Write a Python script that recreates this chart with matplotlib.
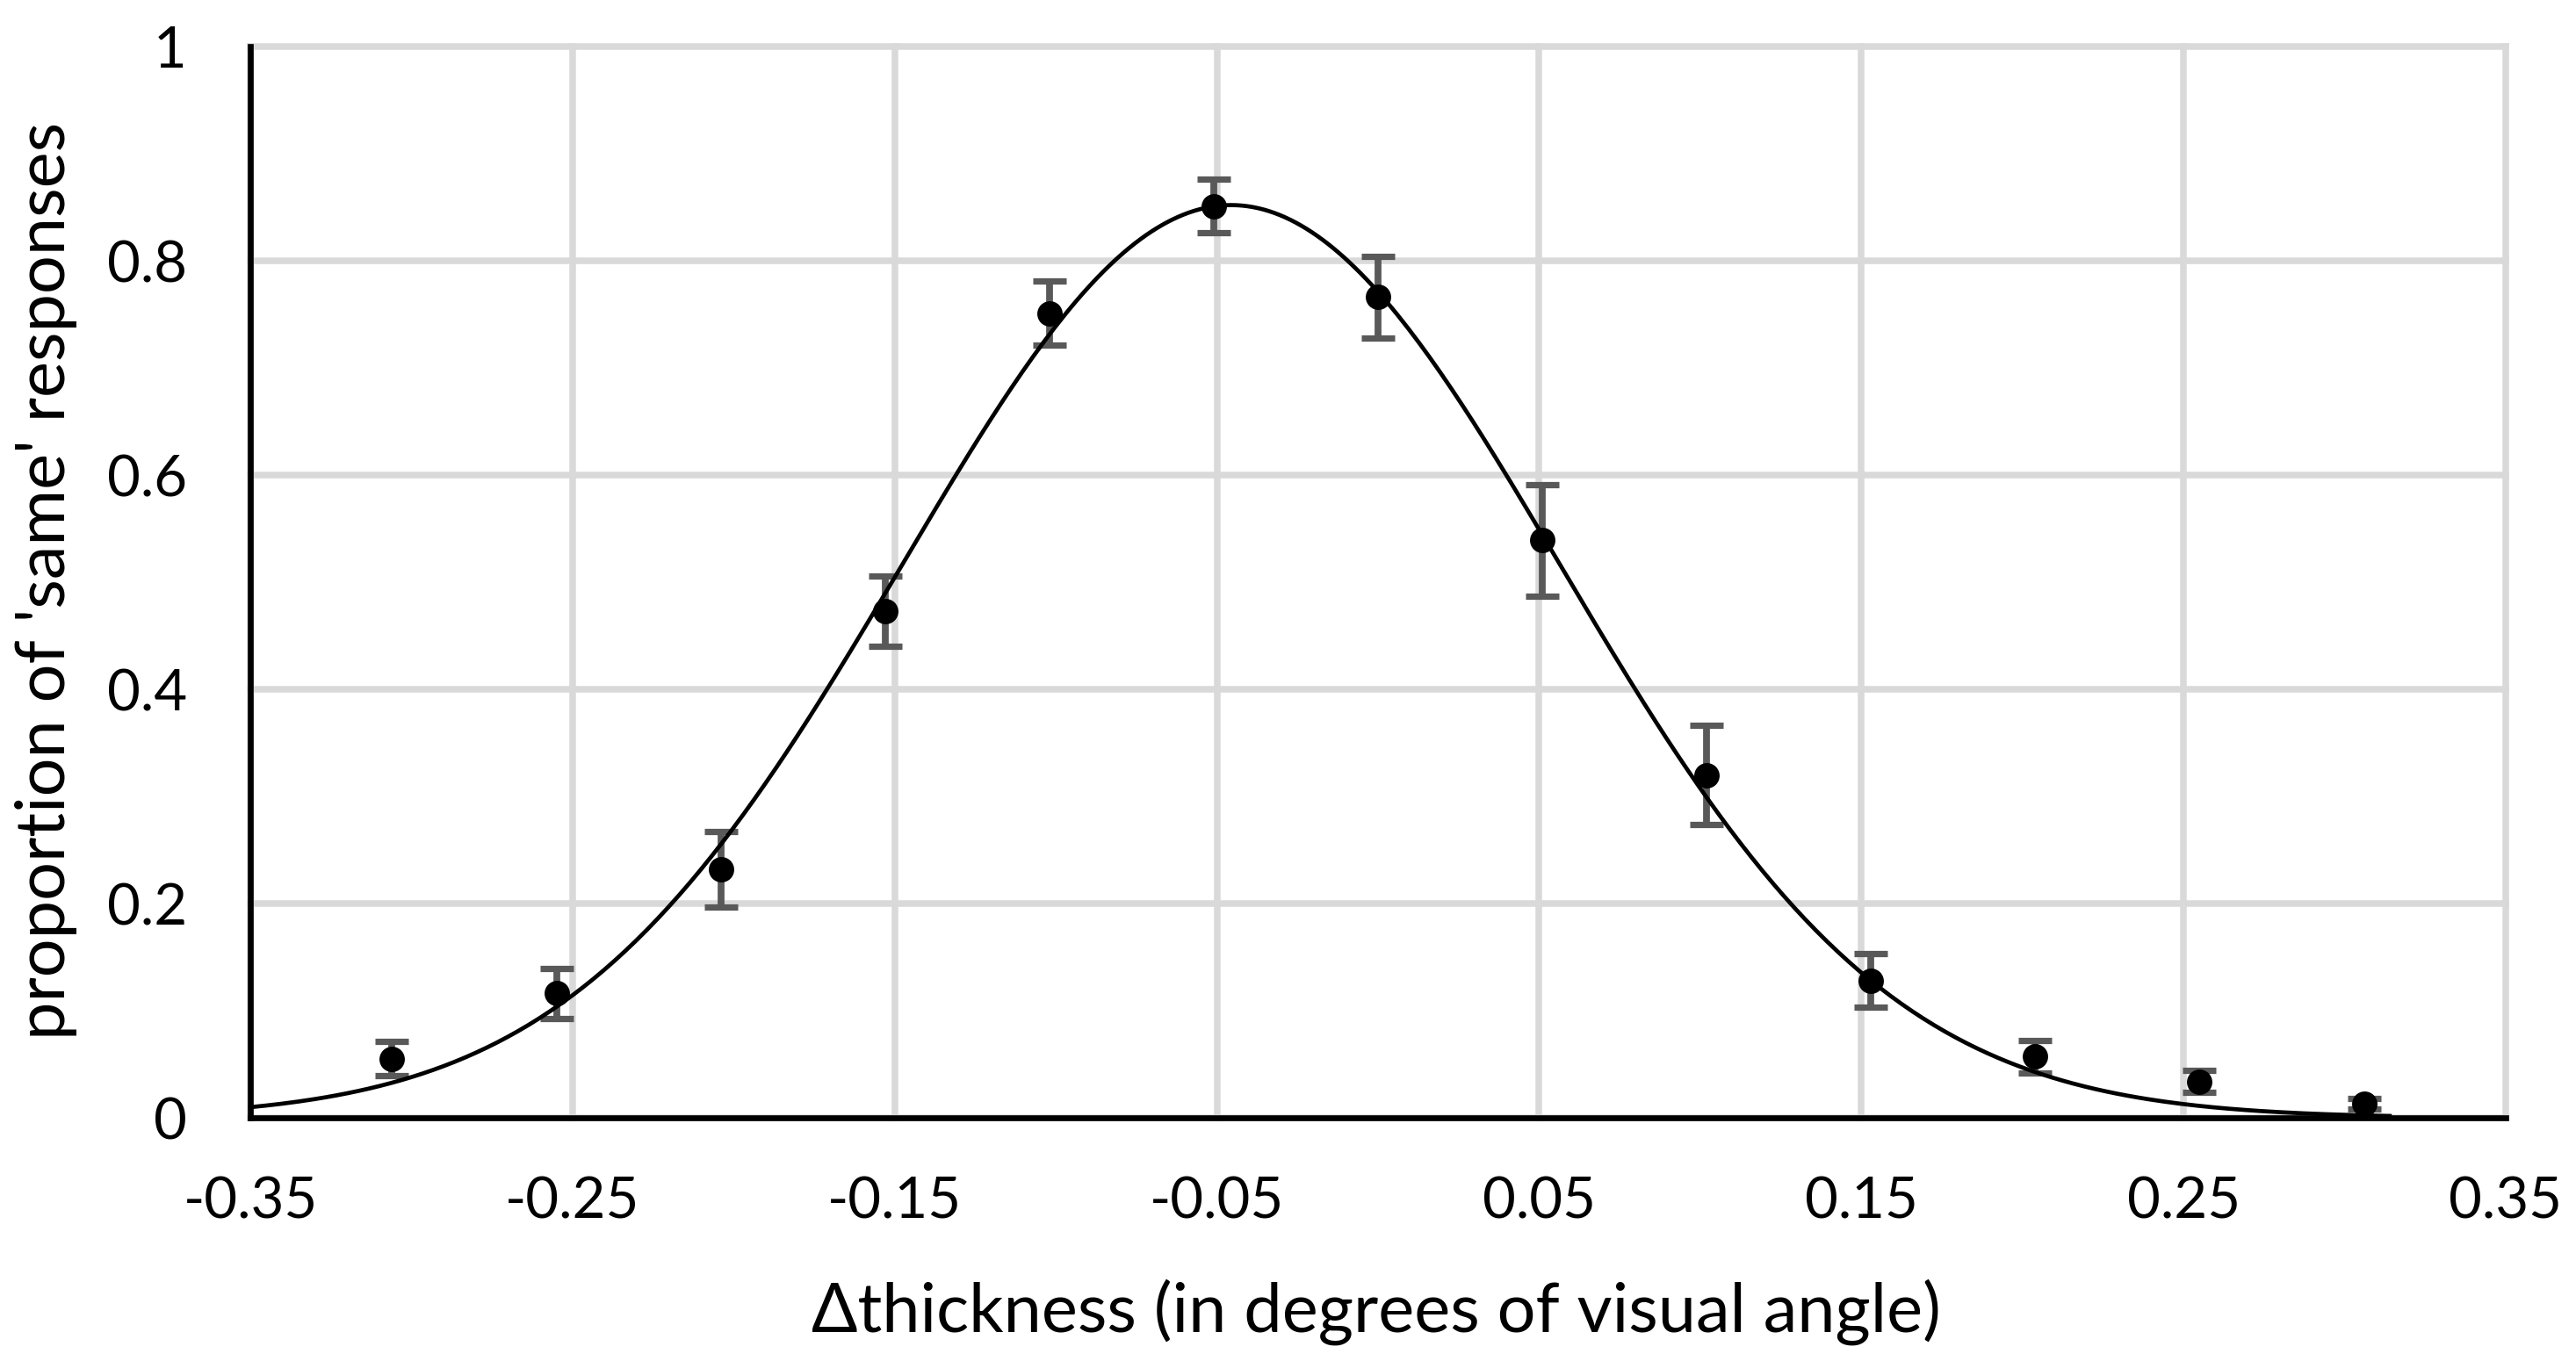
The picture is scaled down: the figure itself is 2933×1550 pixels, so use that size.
# proportion of 'same' responses vs thickness difference, with fitted curve
import matplotlib
matplotlib.use("Agg")
import matplotlib.pyplot as plt
import numpy as np

# ---------- data ----------
dthick = [-0.306, -0.255, -0.204, -0.153, -0.102, -0.051, 0.0,
          0.051, 0.102, 0.153, 0.204, 0.255, 0.306]
p_same = [0.055, 0.116, 0.232, 0.473, 0.751, 0.851, 0.766,
          0.539, 0.320, 0.128, 0.057, 0.034, 0.013]
p_err = [0.016, 0.023, 0.035, 0.033, 0.030, 0.025, 0.038,
         0.052, 0.046, 0.025, 0.015, 0.010, 0.005]

# fitted gaussian (parameters estimated from the drawn curve)
fit_amp = 0.852
fit_mu = -0.0456
fit_sigma = 0.102
fit_range = (-0.35, 0.314)

xticks = [-0.35, -0.25, -0.15, -0.05, 0.05, 0.15, 0.25, 0.35]
xtick_labels = ["-0.35", "-0.25", "-0.15", "-0.05", "0.05", "0.15", "0.25", "0.35"]
yticks = [0, 0.2, 0.4, 0.6, 0.8, 1.0]
ytick_labels = ["0", "0.2", "0.4", "0.6", "0.8", "1"]

plt.rcParams["font.family"] = ["Lato", "DejaVu Sans"]

fig = plt.figure(figsize=(14.665, 7.75), dpi=200)
ax = fig.add_axes([0.0972, 0.1787, 0.8755, 0.7871])

ax.set_xlim(-0.35, 0.35)
ax.set_ylim(0, 1)
ax.set_xticks(xticks)
ax.set_xticklabels(xtick_labels)
ax.set_yticks(yticks)
ax.set_yticklabels(ytick_labels)
ax.tick_params(length=0, labelsize=23.5)
ax.tick_params(axis="x", pad=24)
ax.tick_params(axis="y", pad=26)

ax.grid(True, color="#d9d9d9", linewidth=2.7)
ax.set_axisbelow(True)
for gl in ax.get_xgridlines() + ax.get_ygridlines():
    gl.set_clip_on(False)

for side in ["top", "right"]:
    ax.spines[side].set_visible(False)
for side in ["left", "bottom"]:
    ax.spines[side].set_linewidth(2.4)
    ax.spines[side].set_color("black")
    ax.spines[side].set_zorder(5)

# data with error bars
ax.errorbar(dthick, p_same, yerr=p_err, fmt="none", ecolor="#595959",
            elinewidth=2.8, capsize=6.9, capthick=2.6, zorder=3)
ax.plot(dthick, p_same, "o", color="black", markersize=9.4, zorder=4, clip_on=False)

# fitted curve
xs = np.linspace(fit_range[0], fit_range[1], 400)
ys = fit_amp * np.exp(-(xs - fit_mu) ** 2 / (2 * fit_sigma ** 2))
ax.plot(xs, ys, color="black", linewidth=1.7, zorder=4, clip_on=False)

fig.text(0.0180, 0.5732, "proportion of 'same' responses", rotation=90,
         ha="center", va="center", fontsize=27.9)
fig.text(0.5343, 0.0213, "\u0394thickness (in degrees of visual angle)",
         ha="center", va="baseline", fontsize=27.9)

fig.savefig("out.png", dpi=200)
plt.close(fig)
